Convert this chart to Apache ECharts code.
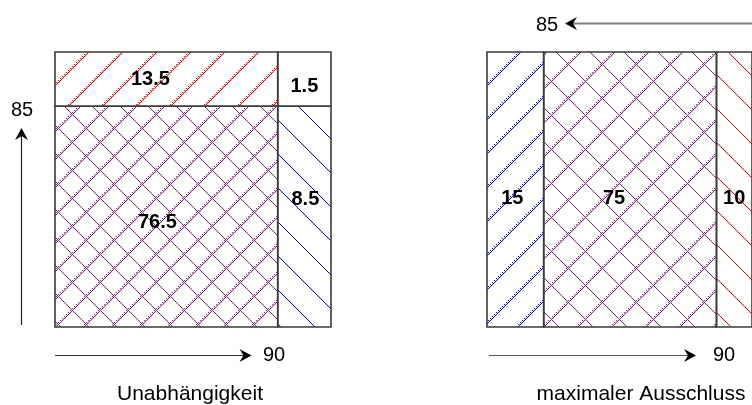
<!DOCTYPE html>
<html>
<head>
<meta charset="utf-8">
<script src="https://cdn.jsdelivr.net/npm/echarts@6/dist/echarts.min.js"></script>
<style>
html,body{margin:0;padding:0;background:#fff;}
#chart{width:752px;height:405px;}
</style>
</head>
<body>
<div id="chart"></div>
<script>
// ---- data ----
const panelTitles = ['Unabhängigkeit', 'maximaler Ausschluss'];
const leftValues = [76.5, 13.5, 8.5, 1.5];   // A∩B, A∩¬B, ¬A∩B, ¬A∩¬B
const rightValues = [15, 75, 10];            // ¬A, A∩B, ¬B
const axisTotals = ['90', '85'];             // horizontal, vertical

// ---- hatch colours ----
const PURPLE = [139, 28, 139];
const RED = [255, 0, 0];
const BLUE = [0, 0, 255];

function mod(a, n) { return ((a % n) + n) % n; }

// pixel-exact hatch image for a cell whose top-left pixel is (X, Y)
function hatchCanvas(X, Y, W, H, h) {
  const c = document.createElement('canvas');
  c.width = W; c.height = H;
  const g = c.getContext('2d');
  const img = g.createImageData(W, H);
  const T = h.period;
  for (let j = 0; j < H; j++) {
    for (let i = 0; i < W; i++) {
      const x = X + i, y = Y + j;
      let on = false;
      if (h.up !== undefined) {
        if (mod(x + y - h.up, T) === 0) on = true;
        else if ((x & 1) === 0 && (y & 1) === 0 && mod(x + y + 2 - h.up, T) === 0) on = true;
      }
      if (!on && h.down !== undefined) {
        if (mod(x - y - h.down, T) === 0) on = true;
      }
      if (on) {
        const k = (j * W + i) * 4;
        img.data[k] = h.color[0]; img.data[k + 1] = h.color[1]; img.data[k + 2] = h.color[2]; img.data[k + 3] = 255;
      }
    }
  }
  g.putImageData(img, 0, 0);
  return c;
}

// ---- schematic layout (axis units 0..100) ----
const layouts = [
  [
    { x0: 0, x1: 80.7, y0: 0, y1: 80.3, hatch: { color: PURPLE, period: 28, up: 18, down: 14 }, nx: -9, ny: 6 },
    { x0: 0, x1: 80.7, y0: 80.3, y1: 100, hatch: { color: RED, period: 34, up: 4 }, nx: -16, ny: 0 },
    { x0: 80.7, x1: 100, y0: 0, y1: 80.3, hatch: { color: BLUE, period: 34, down: 22 }, nx: 1, ny: -17 },
    { x0: 80.7, x1: 100, y0: 80.3, y1: 100, hatch: null, nx: 0, ny: 7 }
  ],
  [
    { x0: 0, x1: 21.4, y0: 0, y1: 100, hatch: { color: BLUE, period: 34, up: 28 }, nx: -3, ny: 9 },
    { x0: 21.4, x1: 86.6, y0: 0, y1: 100, hatch: { color: PURPLE, period: 34, up: 20, down: 28 }, nx: -16, ny: 9 },
    { x0: 86.6, x1: 100, y0: 0, y1: 100, hatch: { color: RED, period: 34, down: 30 }, nx: 0, ny: 9 }
  ]
];

function makeRender(panel) {
  return function (params, api) {
    const L = layouts[panel][params.dataIndex];
    const p0 = api.coord([L.x0, L.y1]);
    const p1 = api.coord([L.x1, L.y0]);
    const w = p1[0] - p0[0], h = p1[1] - p0[1];
    const children = [];
    if (L.hatch) {
      const X = Math.ceil(p0[0]), Y = Math.ceil(p0[1]);
      const W = Math.floor(p1[0]) - X, H = Math.floor(p1[1]) - Y;
      children.push({
        type: 'image', z2: 2,
        style: { image: hatchCanvas(X, Y, W, H, L.hatch), x: X, y: Y, width: W, height: H }
      });
    }
    children.push({
      type: 'rect', shape: { x: p0[0], y: p0[1], width: w, height: h },
      style: { fill: null, stroke: '#3a3a3a', lineWidth: 1.6 }, z2: 5
    });
    children.push({
      type: 'text', z2: 10,
      style: {
        text: String(api.value(0)), x: p0[0] + w / 2 + L.nx, y: p0[1] + h / 2 + L.ny,
        align: 'center', verticalAlign: 'middle',
        font: 'bold 20px "Liberation Sans", Arial, sans-serif', fill: '#000'
      }
    });
    return { type: 'group', children: children };
  };
}

// ---- arrows and texts ----
const FONT = '"Liberation Sans", Arial, sans-serif';
function head(tx, ty, dir) {
  const len = 12, half = 6.5, notch = 8;
  let pts;
  if (dir === 'right') pts = [[tx, ty], [tx - len, ty - half], [tx - notch, ty], [tx - len, ty + half]];
  else if (dir === 'left') pts = [[tx, ty], [tx + len, ty - half], [tx + notch, ty], [tx + len, ty + half]];
  else pts = [[tx, ty], [tx - half, ty + len], [tx, ty + notch], [tx + half, ty + len]];
  return { type: 'polygon', shape: { points: pts }, style: { fill: '#000' }, z: 20 };
}
function txt(s, x, y, size) {
  return { type: 'text', z: 20, style: { text: s, x: x, y: y, align: 'center', verticalAlign: 'middle', font: size + 'px ' + FONT, fill: '#000' } };
}
const graphics = [
  { type: 'line', shape: { x1: 21.5, y1: 325, x2: 21.5, y2: 134 }, style: { stroke: '#222', lineWidth: 1.2 }, z: 20 },
  head(21.5, 128, 'up'),
  txt(axisTotals[1], 22, 110, 20),
  { type: 'line', shape: { x1: 55, y1: 355.5, x2: 246, y2: 355.5 }, style: { stroke: '#333', lineWidth: 1.2 }, z: 20 },
  head(251.5, 355.5, 'right'),
  txt(axisTotals[0], 274, 355, 20),
  txt(panelTitles[0], 190, 394, 21),
  { type: 'line', shape: { x1: 571, y1: 23.5, x2: 760, y2: 23.5 }, style: { stroke: '#808080', lineWidth: 2 }, z: 20 },
  head(565, 23.5, 'left'),
  txt(axisTotals[1], 547, 25, 20),
  { type: 'line', shape: { x1: 489, y1: 355.5, x2: 691, y2: 355.5 }, style: { stroke: '#555', lineWidth: 1.2 }, z: 20 },
  head(696, 355.5, 'right'),
  txt(axisTotals[0], 724, 355, 20),
  txt(panelTitles[1], 641, 394, 21)
];

const chart = echarts.init(document.getElementById('chart'), null, { renderer: 'canvas' });
chart.setOption({
  animation: false,
  backgroundColor: '#fff',
  grid: [
    { left: 55, top: 52, width: 276, height: 275 },
    { left: 487, top: 52, width: 276, height: 275 }
  ],
  xAxis: [
    { type: 'value', gridIndex: 0, min: 0, max: 100, show: false },
    { type: 'value', gridIndex: 1, min: 0, max: 100, show: false }
  ],
  yAxis: [
    { type: 'value', gridIndex: 0, min: 0, max: 100, show: false },
    { type: 'value', gridIndex: 1, min: 0, max: 100, show: false }
  ],
  series: [
    { type: 'custom', xAxisIndex: 0, yAxisIndex: 0, renderItem: makeRender(0), data: leftValues.map(function (v) { return [v]; }), encode: { x: [], y: [] }, clip: false },
    { type: 'custom', xAxisIndex: 1, yAxisIndex: 1, renderItem: makeRender(1), data: rightValues.map(function (v) { return [v]; }), encode: { x: [], y: [] }, clip: false }
  ],
  graphic: graphics
});
</script>
</body>
</html>
